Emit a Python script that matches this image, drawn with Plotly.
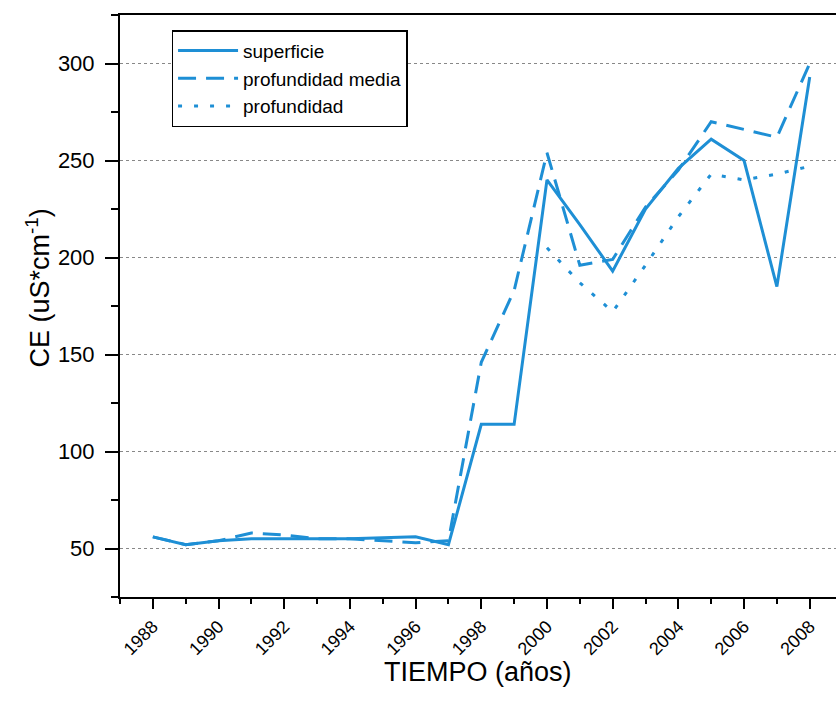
import plotly.graph_objects as go

years = list(range(1988, 2009))
superficie = [56, 52, 54, 55, 55, 55, 55, 55.5, 56, 52, 114, 114, 240, 217, 193, 225, 246, 261, 250, 185, 293]
prof_media_years = list(range(1988, 2009))
prof_media = [56, 52, 54, 58, 57, 55, 55, 54, 53, 54, 146, 183, 254, 196, 199, 226, 245, 270, 266, 262, 300]
prof_years = list(range(2000, 2009))
profundidad = [205, 187, 172, 196, 221, 243, 240, 243, 247]

x_ticks = list(range(1988, 2009, 2))
color = "#1E8FD5"
font = "Liberation Sans, Arial, sans-serif"

fig = go.Figure()
fig.add_trace(go.Scatter(x=years, y=superficie, mode="lines", name="superficie",
                         line=dict(color=color, width=3)))
fig.add_trace(go.Scatter(x=prof_media_years, y=prof_media, mode="lines", name="profundidad media",
                         line=dict(color=color, width=3, dash="18px,10px")))
fig.add_trace(go.Scatter(x=prof_years, y=profundidad, mode="lines", name="profundidad",
                         line=dict(color=color, width=3, dash="4px,12px")))

fig.update_layout(
    width=836, height=714,
    margin=dict(l=120, r=0, t=15, b=117),
    paper_bgcolor="white", plot_bgcolor="white",
    font=dict(family=font, color="black"),
    showlegend=True,
    legend=dict(x=0.072, y=0.974, xanchor="left", yanchor="top",
                bordercolor="black", borderwidth=1.5, bgcolor="white",
                font=dict(size=19), itemwidth=60, tracegroupgap=0),
    xaxis=dict(range=[1987, 2008.8], tickvals=x_ticks, ticktext=[str(v) for v in x_ticks],
               tickangle=-45, ticks="outside", ticklen=10, tickwidth=2, tickcolor="black",
               tickfont=dict(size=18), showgrid=False, zeroline=False,
               showline=True, linecolor="black", linewidth=2, mirror=True,
               minor=dict(dtick=1, tick0=1987, ticks="outside", ticklen=5, tickwidth=2, tickcolor="black")),
    yaxis=dict(range=[25, 325], dtick=50, tick0=0, ticks="outside", ticklen=13, tickwidth=2,
               tickcolor="black", tickfont=dict(size=22), ticklabelstandoff=6,
               showgrid=True, gridcolor="#888888", gridwidth=1, griddash="dot",
               zeroline=False, showline=True, linecolor="black", linewidth=2, mirror=False,
               minor=dict(dtick=25, tick0=0, ticks="outside", ticklen=7, tickwidth=2, tickcolor="black",
                          showgrid=False)),
    annotations=[
        dict(text="CE (uS*cm<sup>-1</sup>)", xref="paper", yref="paper", x=-0.115, y=0.531,
             xanchor="center", yanchor="middle", textangle=-90, showarrow=False,
             font=dict(size=27)),
        dict(text="TIEMPO (años)", xref="paper", yref="paper", x=0.5, y=-0.129,
             xanchor="center", yanchor="middle", showarrow=False, font=dict(size=27)),
    ],
)

fig.write_html("out.html")
